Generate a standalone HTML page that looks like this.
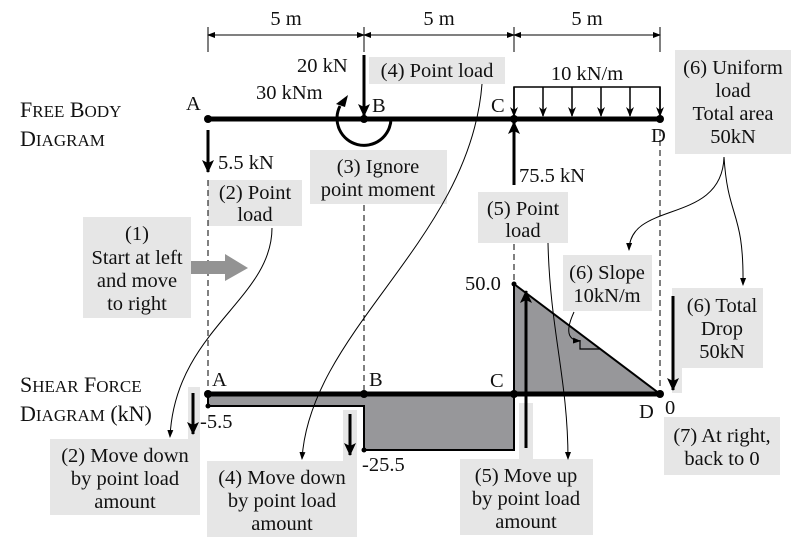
<!DOCTYPE html>
<html><head><meta charset="utf-8"><style>
html,body{margin:0;padding:0;background:#fff;}
svg{display:block;}
svg text{font-family:"Liberation Serif","DejaVu Serif",serif;font-size:20.5px;fill:#111;}
.c{text-anchor:middle;}
svg text.sc{font-size:22px;}
.sc tspan.s{font-size:17px;}
</style></head><body>
<svg width="800" height="558" viewBox="0 0 800 558" xmlns="http://www.w3.org/2000/svg" font-family="Liberation Serif, DejaVu Serif, serif">
<defs>
<marker id="ah" markerWidth="10" markerHeight="10" refX="9" refY="5" orient="auto" markerUnits="userSpaceOnUse"><path d="M0,1 L10,5 L0,9 L3,5 Z" fill="#000"/></marker>
<marker id="sh" markerWidth="8" markerHeight="8" refX="7" refY="4" orient="auto" markerUnits="userSpaceOnUse"><path d="M0,1 L8,4 L0,7 Z" fill="#000"/></marker>
<marker id="bh" markerWidth="14" markerHeight="14" refX="12" refY="7" orient="auto" markerUnits="userSpaceOnUse"><path d="M0,1 L13,7 L0,13 L3,7 Z" fill="#000"/></marker>
</defs>

<g fill="#e6e6e6">
<rect x="369" y="57" width="136" height="27"/>
<rect x="675" y="50" width="116" height="104"/>
<rect x="310" y="150" width="137" height="54"/>
<rect x="208" y="180" width="94" height="46"/>
<rect x="83" y="217" width="108" height="101"/>
<rect x="478" y="192" width="90" height="51"/>
<rect x="563" y="255" width="89" height="56"/>
<rect x="680" y="288" width="83" height="80"/>
<rect x="672" y="288" width="10" height="105"/>
<rect x="664" y="417" width="116" height="58"/>
<rect x="50" y="439" width="150" height="76"/>
<rect x="188" y="387" width="12" height="55"/>
<rect x="207" y="461" width="150" height="76"/>
<rect x="343" y="410" width="14" height="55"/>
<rect x="460" y="459" width="133" height="76"/>
<rect x="519" y="403" width="14" height="60"/>
</g>

<g stroke="#000" stroke-width="1" fill="none">
<line x1="208" y1="27" x2="208" y2="52"/><line x1="364" y1="27" x2="364" y2="52"/>
<line x1="514" y1="27" x2="514" y2="52"/><line x1="660" y1="27" x2="660" y2="52"/>
<line x1="208" y1="35" x2="364" y2="35" marker-end="url(#sh)"/>
<line x1="364" y1="35" x2="208" y2="35" marker-end="url(#sh)"/>
<line x1="364" y1="35" x2="514" y2="35" marker-end="url(#sh)"/>
<line x1="514" y1="35" x2="364" y2="35" marker-end="url(#sh)"/>
<line x1="514" y1="35" x2="660" y2="35" marker-end="url(#sh)"/>
<line x1="660" y1="35" x2="514" y2="35" marker-end="url(#sh)"/>
</g>
<text class="c" x="286" y="25">5 m</text>
<text class="c" x="439" y="25">5 m</text>
<text class="c" x="587" y="25">5 m</text>

<g stroke="#000" stroke-width="1" stroke-dasharray="6,4">
<line x1="208" y1="180" x2="208" y2="394"/>
<line x1="364" y1="205" x2="364" y2="394"/>
<line x1="514" y1="244" x2="514" y2="284"/>
<line x1="660" y1="130" x2="660" y2="392"/>
</g>

<line x1="208" y1="119" x2="660" y2="119" stroke="#000" stroke-width="5"/>
<g fill="#000"><circle cx="208" cy="119" r="4"/><circle cx="364" cy="119" r="4"/><circle cx="514" cy="119" r="4"/><circle cx="660" cy="119" r="4"/></g>
<line x1="208" y1="130" x2="208" y2="172" stroke="#000" stroke-width="3" marker-end="url(#bh)"/>
<line x1="364" y1="55" x2="364" y2="116" stroke="#000" stroke-width="3" marker-end="url(#bh)"/>
<line x1="514" y1="185" x2="514" y2="122" stroke="#000" stroke-width="3" marker-end="url(#bh)"/>
<path d="M391,119 A27,27 0 1,1 340,106" fill="none" stroke="#000" stroke-width="3"/>
<path d="M348,95 L336,104 L345,107 Z" fill="#000"/>
<g stroke="#000" stroke-width="1.5" fill="none">
<polyline points="514,115 514,87 660,87 660,115"/>
<line x1="514" y1="87" x2="514" y2="116" marker-end="url(#ah)"/>
<line x1="543" y1="87" x2="543" y2="116" marker-end="url(#ah)"/>
<line x1="572" y1="87" x2="572" y2="116" marker-end="url(#ah)"/>
<line x1="601" y1="87" x2="601" y2="116" marker-end="url(#ah)"/>
<line x1="630" y1="87" x2="630" y2="116" marker-end="url(#ah)"/>
<line x1="660" y1="87" x2="660" y2="116" marker-end="url(#ah)"/>
</g>
<text class="c" x="587" y="80">10 kN/m</text>
<text x="186" y="110">A</text>
<text x="372" y="112">B</text>
<text x="491" y="112">C</text>
<text x="651" y="142">D</text>
<text x="297" y="72">20 kN</text>
<text x="256" y="99">30 kNm</text>
<text x="218" y="169">5.5 kN</text>
<text x="519" y="182">75.5 kN</text>

<text class="sc" x="20" y="117">F<tspan class="s">REE</tspan> B<tspan class="s">ODY</tspan></text>
<text class="sc" x="20" y="146">D<tspan class="s">IAGRAM</tspan></text>
<text class="sc" x="20" y="392">S<tspan class="s">HEAR</tspan> F<tspan class="s">ORCE</tspan></text>
<text class="sc" x="20" y="421">D<tspan class="s">IAGRAM</tspan> (kN)</text>

<path d="M208,394 L208,406 L364,406 L364,450 L514,450 L514,394 Z" fill="#97979a" stroke="#000" stroke-width="2"/>
<path d="M514,394 L514,284 L660,394 Z" fill="#97979a" stroke="#000" stroke-width="2"/>
<line x1="208" y1="394" x2="660" y2="394" stroke="#000" stroke-width="5"/>
<g fill="#000"><circle cx="208" cy="394" r="4"/><circle cx="364" cy="394" r="4"/><circle cx="514" cy="394" r="4"/><circle cx="660" cy="394" r="4"/><circle cx="208" cy="406" r="2.5"/><circle cx="364" cy="450" r="2.5"/><circle cx="514" cy="284" r="2.5"/></g>
<polyline points="580,340 580,349 600,349" fill="none" stroke="#000" stroke-width="1.2"/>
<line x1="526" y1="448" x2="526" y2="291" stroke="#000" stroke-width="3" marker-end="url(#bh)"/>
<line x1="193" y1="393" x2="193" y2="434" stroke="#000" stroke-width="3" marker-end="url(#bh)"/>
<line x1="350" y1="414" x2="350" y2="455" stroke="#000" stroke-width="3" marker-end="url(#bh)"/>
<line x1="673" y1="296" x2="673" y2="390" stroke="#000" stroke-width="3" marker-end="url(#bh)"/>
<text x="212" y="386">A</text>
<text x="369" y="386">B</text>
<text x="490" y="387">C</text>
<text x="639" y="418">D</text>
<text x="665" y="414">0</text>
<text x="200" y="428">-5.5</text>
<text x="362" y="471">-25.5</text>
<text x="465" y="290">50.0</text>

<path d="M191,261 L225,261 L225,254 L248,268 L225,281 L225,274 L191,274 Z" fill="#939393"/>

<g fill="none" stroke="#000" stroke-width="1">
<path d="M272,228 C272,300 175,330 170,437" marker-end="url(#sh)"/>
<path d="M482,84 C470,240 310,330 302,459" marker-end="url(#sh)"/>
<path d="M548,243 C550,330 568,380 568,459" marker-end="url(#sh)"/>
<path d="M724,157 C722,225 630,200 629,250" marker-end="url(#sh)"/>
<path d="M724,157 C728,220 744,210 743,285" marker-end="url(#sh)"/>
<path d="M574,312 C568,325 564,340 580,341" marker-end="url(#sh)"/>
</g>

<text class="c" x="437" y="77">(4) Point load</text>
<text class="c" x="733" y="74">(6) Uniform</text>
<text class="c" x="733" y="97">load</text>
<text class="c" x="733" y="120">Total area</text>
<text class="c" x="733" y="143">50kN</text>
<text class="c" x="378" y="173">(3) Ignore</text>
<text class="c" x="378" y="196">point moment</text>
<text class="c" x="255" y="199">(2) Point</text>
<text class="c" x="255" y="221">load</text>
<text class="c" x="137" y="240">(1)</text>
<text class="c" x="137" y="264">Start at left</text>
<text class="c" x="137" y="287">and move</text>
<text class="c" x="137" y="310">to right</text>
<text class="c" x="523" y="215">(5) Point</text>
<text class="c" x="523" y="237">load</text>
<text class="c" x="607" y="279">(6) Slope</text>
<text class="c" x="607" y="302">10kN/m</text>
<text class="c" x="722" y="312">(6) Total</text>
<text class="c" x="722" y="335">Drop</text>
<text class="c" x="722" y="358">50kN</text>
<text class="c" x="722" y="442">(7) At right,</text>
<text class="c" x="722" y="465">back to 0</text>
<text class="c" x="125" y="462">(2) Move down</text>
<text class="c" x="125" y="485">by point load</text>
<text class="c" x="125" y="508">amount</text>
<text class="c" x="282" y="484">(4) Move down</text>
<text class="c" x="282" y="507">by point load</text>
<text class="c" x="282" y="530">amount</text>
<text class="c" x="526" y="482">(5) Move up</text>
<text class="c" x="526" y="505">by point load</text>
<text class="c" x="526" y="528">amount</text>
</svg>
</body></html>
